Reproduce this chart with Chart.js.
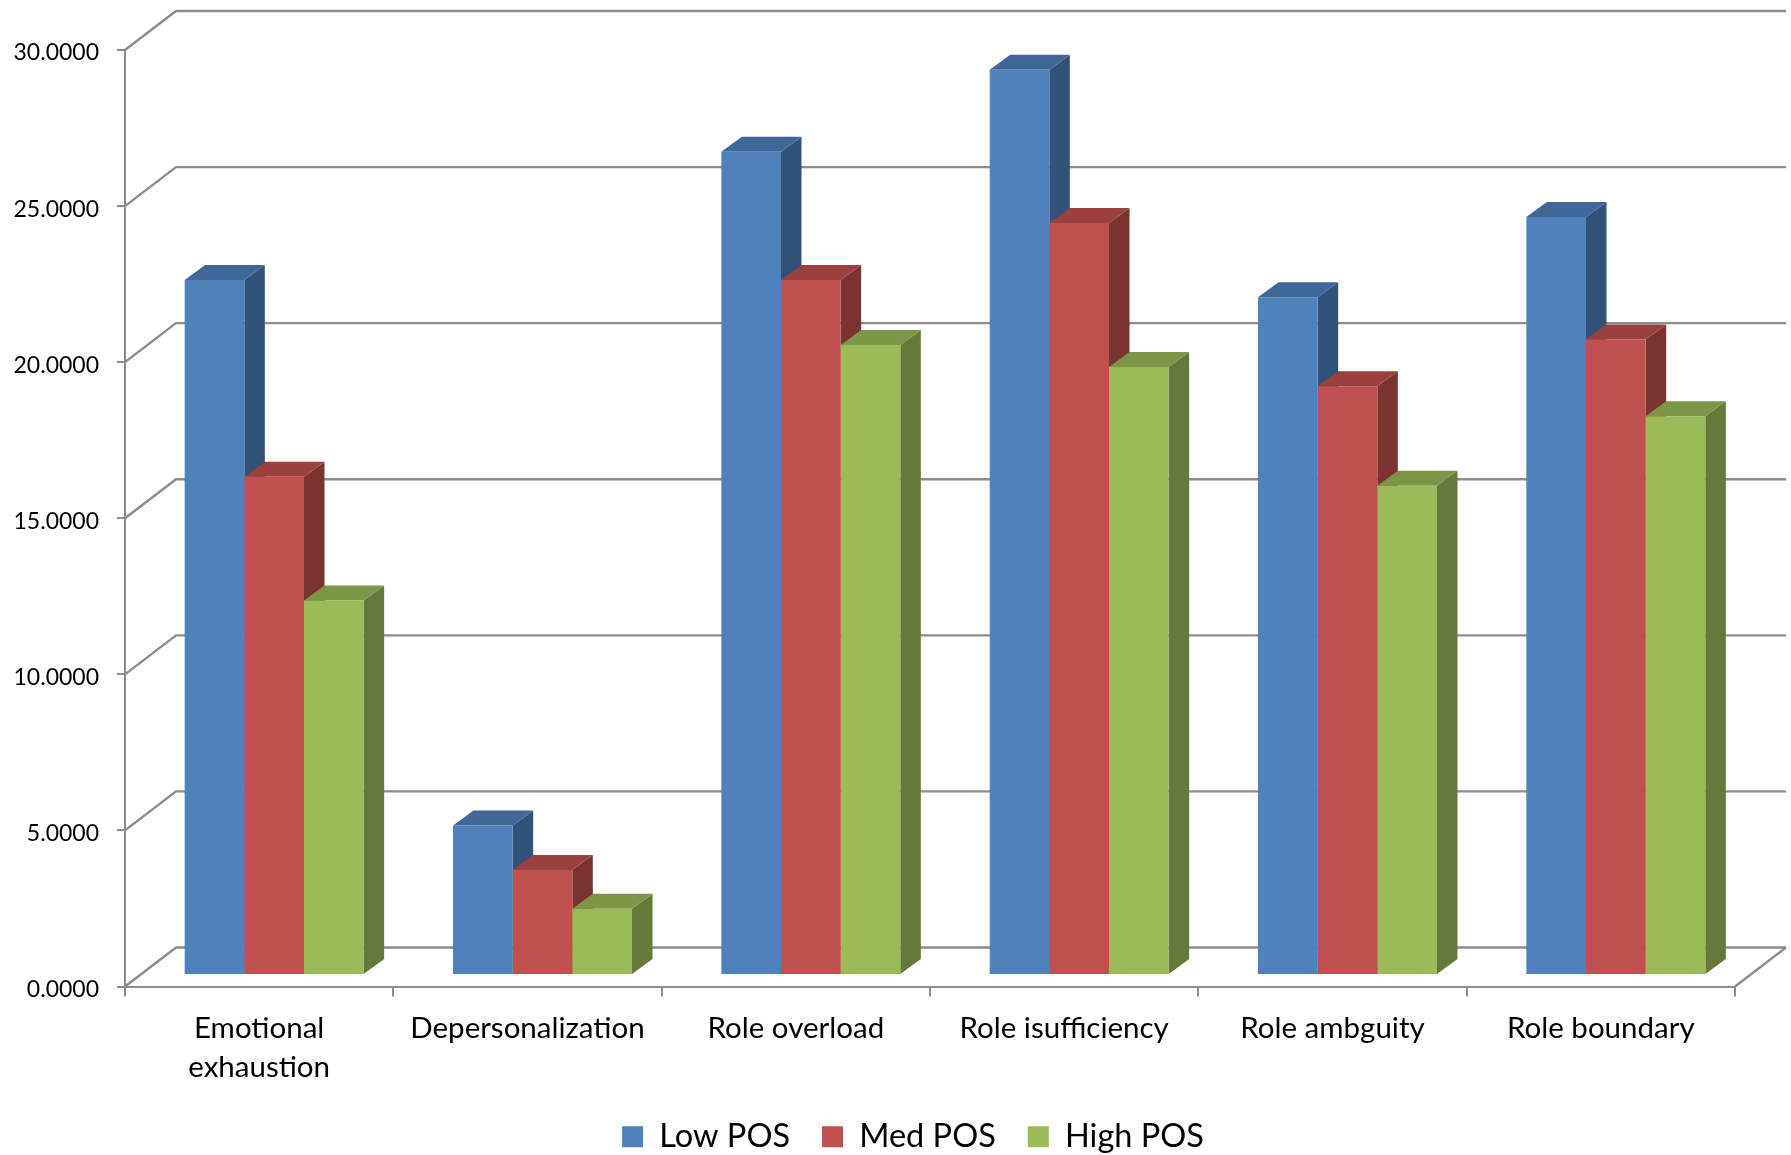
<!DOCTYPE html>
<html>
<head>
<meta charset="utf-8">
<style>html,body{margin:0;padding:0;background:#fff}#w{width:1791px;height:1155px}</style>
<script src="https://cdn.jsdelivr.net/npm/chart.js@4/dist/chart.umd.min.js"></script>
</head>
<body>
<div id="w"><canvas id="c" width="1791" height="1155"></canvas></div>
<script>
const categories = [["Emotional","exhaustion"],"Depersonalization","Role overload","Role isufficiency","Role ambguity","Role boundary"];
const lowPOS  = [22.26, 4.79, 26.37, 29.00, 21.71, 24.28];
const medPOS  = [15.96, 3.36, 22.26, 24.09, 18.86, 20.36];
const highPOS = [12.00, 2.12, 20.18, 19.48, 15.67, 17.90];
const seriesNames = ["Low POS","Med POS","High POS"];
const frontColors = ["#4F81BD","#C0504D","#9BBB59"];
const topColors   = ["#3F6797","#9A403E","#7C9647"];
const sideColors  = ["#325279","#7B3331","#64793A"];
const axisColor = "#8C8C8C";
const FONT = "Lato";
const WALL = {dx:51, dy:-39};
const BAR_SHIFT = {dx:15, dy:-11.5};
const BAR_DEPTH = {dx:20.5, dy:-15};
const LEGEND_SHIFT = {dx:45.5, dy:-8};
const Y_LABEL_NUDGE = 3;

const walls = {
  id:"walls",
  afterLayout(chart){
    const l = chart.legend;
    l.left += LEGEND_SHIFT.dx; l.right += LEGEND_SHIFT.dx;
    l.top += LEGEND_SHIFT.dy; l.bottom += LEGEND_SHIFT.dy;
    chart.scales.y.getLabelItems().forEach(it=>{ it.textOffset += Y_LABEL_NUDGE; });
  },
  beforeDatasetsDraw(chart){
    const {ctx, chartArea:a, scales:{y}} = chart;
    ctx.save();
    ctx.strokeStyle = axisColor; ctx.lineWidth = 2.4; ctx.lineJoin = "round";
    y.ticks.forEach(t=>{
      const py = y.getPixelForValue(t.value);
      ctx.beginPath();
      ctx.moveTo(a.left,py);
      ctx.lineTo(a.left+WALL.dx,py+WALL.dy);
      ctx.lineTo(a.right+WALL.dx,py+WALL.dy);
      ctx.stroke();
    });
    const py0 = y.getPixelForValue(0);
    ctx.beginPath();
    ctx.moveTo(a.right,py0);
    ctx.lineTo(a.right+WALL.dx,py0+WALL.dy);
    ctx.stroke();
    ctx.restore();
    // depth faces of every bar, drawn from the left series to the right one
    ctx.save();
    ctx.translate(BAR_SHIFT.dx,BAR_SHIFT.dy);
    chart.data.datasets.forEach((ds,i)=>{
      chart.getDatasetMeta(i).data.forEach(b=>{
        const {x,y:yt,base,width} = b.getProps(["x","y","base","width"],true);
        const l=x-width/2, r=x+width/2, dx=BAR_DEPTH.dx, dy=BAR_DEPTH.dy;
        ctx.fillStyle = sideColors[i];
        ctx.beginPath();
        ctx.moveTo(r,yt);ctx.lineTo(r+dx,yt+dy);ctx.lineTo(r+dx,base+dy);ctx.lineTo(r,base);
        ctx.closePath();ctx.fill();
        ctx.fillStyle = topColors[i];
        ctx.beginPath();
        ctx.moveTo(l,yt);ctx.lineTo(l+dx,yt+dy);ctx.lineTo(r+dx,yt+dy);ctx.lineTo(r,yt);
        ctx.closePath();ctx.fill();
      });
    });
    ctx.restore();
  },
  beforeDatasetDraw(chart){
    chart.ctx.save();
    chart.ctx.translate(BAR_SHIFT.dx,BAR_SHIFT.dy);
  },
  afterDatasetDraw(chart){ chart.ctx.restore(); }
};

new Chart(document.getElementById("c"),{
  type:"bar",
  data:{
    labels:categories,
    datasets:[lowPOS,medPOS,highPOS].map((d,i)=>({
      label:seriesNames[i], data:d, backgroundColor:frontColors[i], borderWidth:0,
      clip:false, categoryPercentage:0.667, barPercentage:1
    }))
  },
  options:{
    responsive:false, animation:false,
    layout:{padding:{top:50,left:0,right:56,bottom:-16}},
    scales:{
      x:{
        afterFit(s){ s.height = 110; },
        grid:{offset:true,drawOnChartArea:false,color:axisColor,lineWidth:2,tickLength:10},
        border:{color:axisColor,width:2},
        ticks:{color:"#000",font:{family:FONT,size:29.5,lineHeight:1.32},padding:13,maxRotation:0,autoSkip:false}
      },
      y:{
        min:0,max:30,
        afterFit(s){ s.width = 125; },
        grid:{drawOnChartArea:false,color:axisColor,lineWidth:2,tickLength:8},
        border:{color:axisColor,width:2},
        ticks:{stepSize:5,color:"#000",font:{family:FONT,size:23},padding:18,callback:v=>v.toFixed(4)}
      }
    },
    plugins:{
      tooltip:{enabled:false},
      legend:{position:"bottom",labels:{color:"#000",font:{family:FONT,size:32.5},boxWidth:21,boxHeight:21,padding:32}}
    }
  },
  plugins:[walls]
});
</script>
</body>
</html>
